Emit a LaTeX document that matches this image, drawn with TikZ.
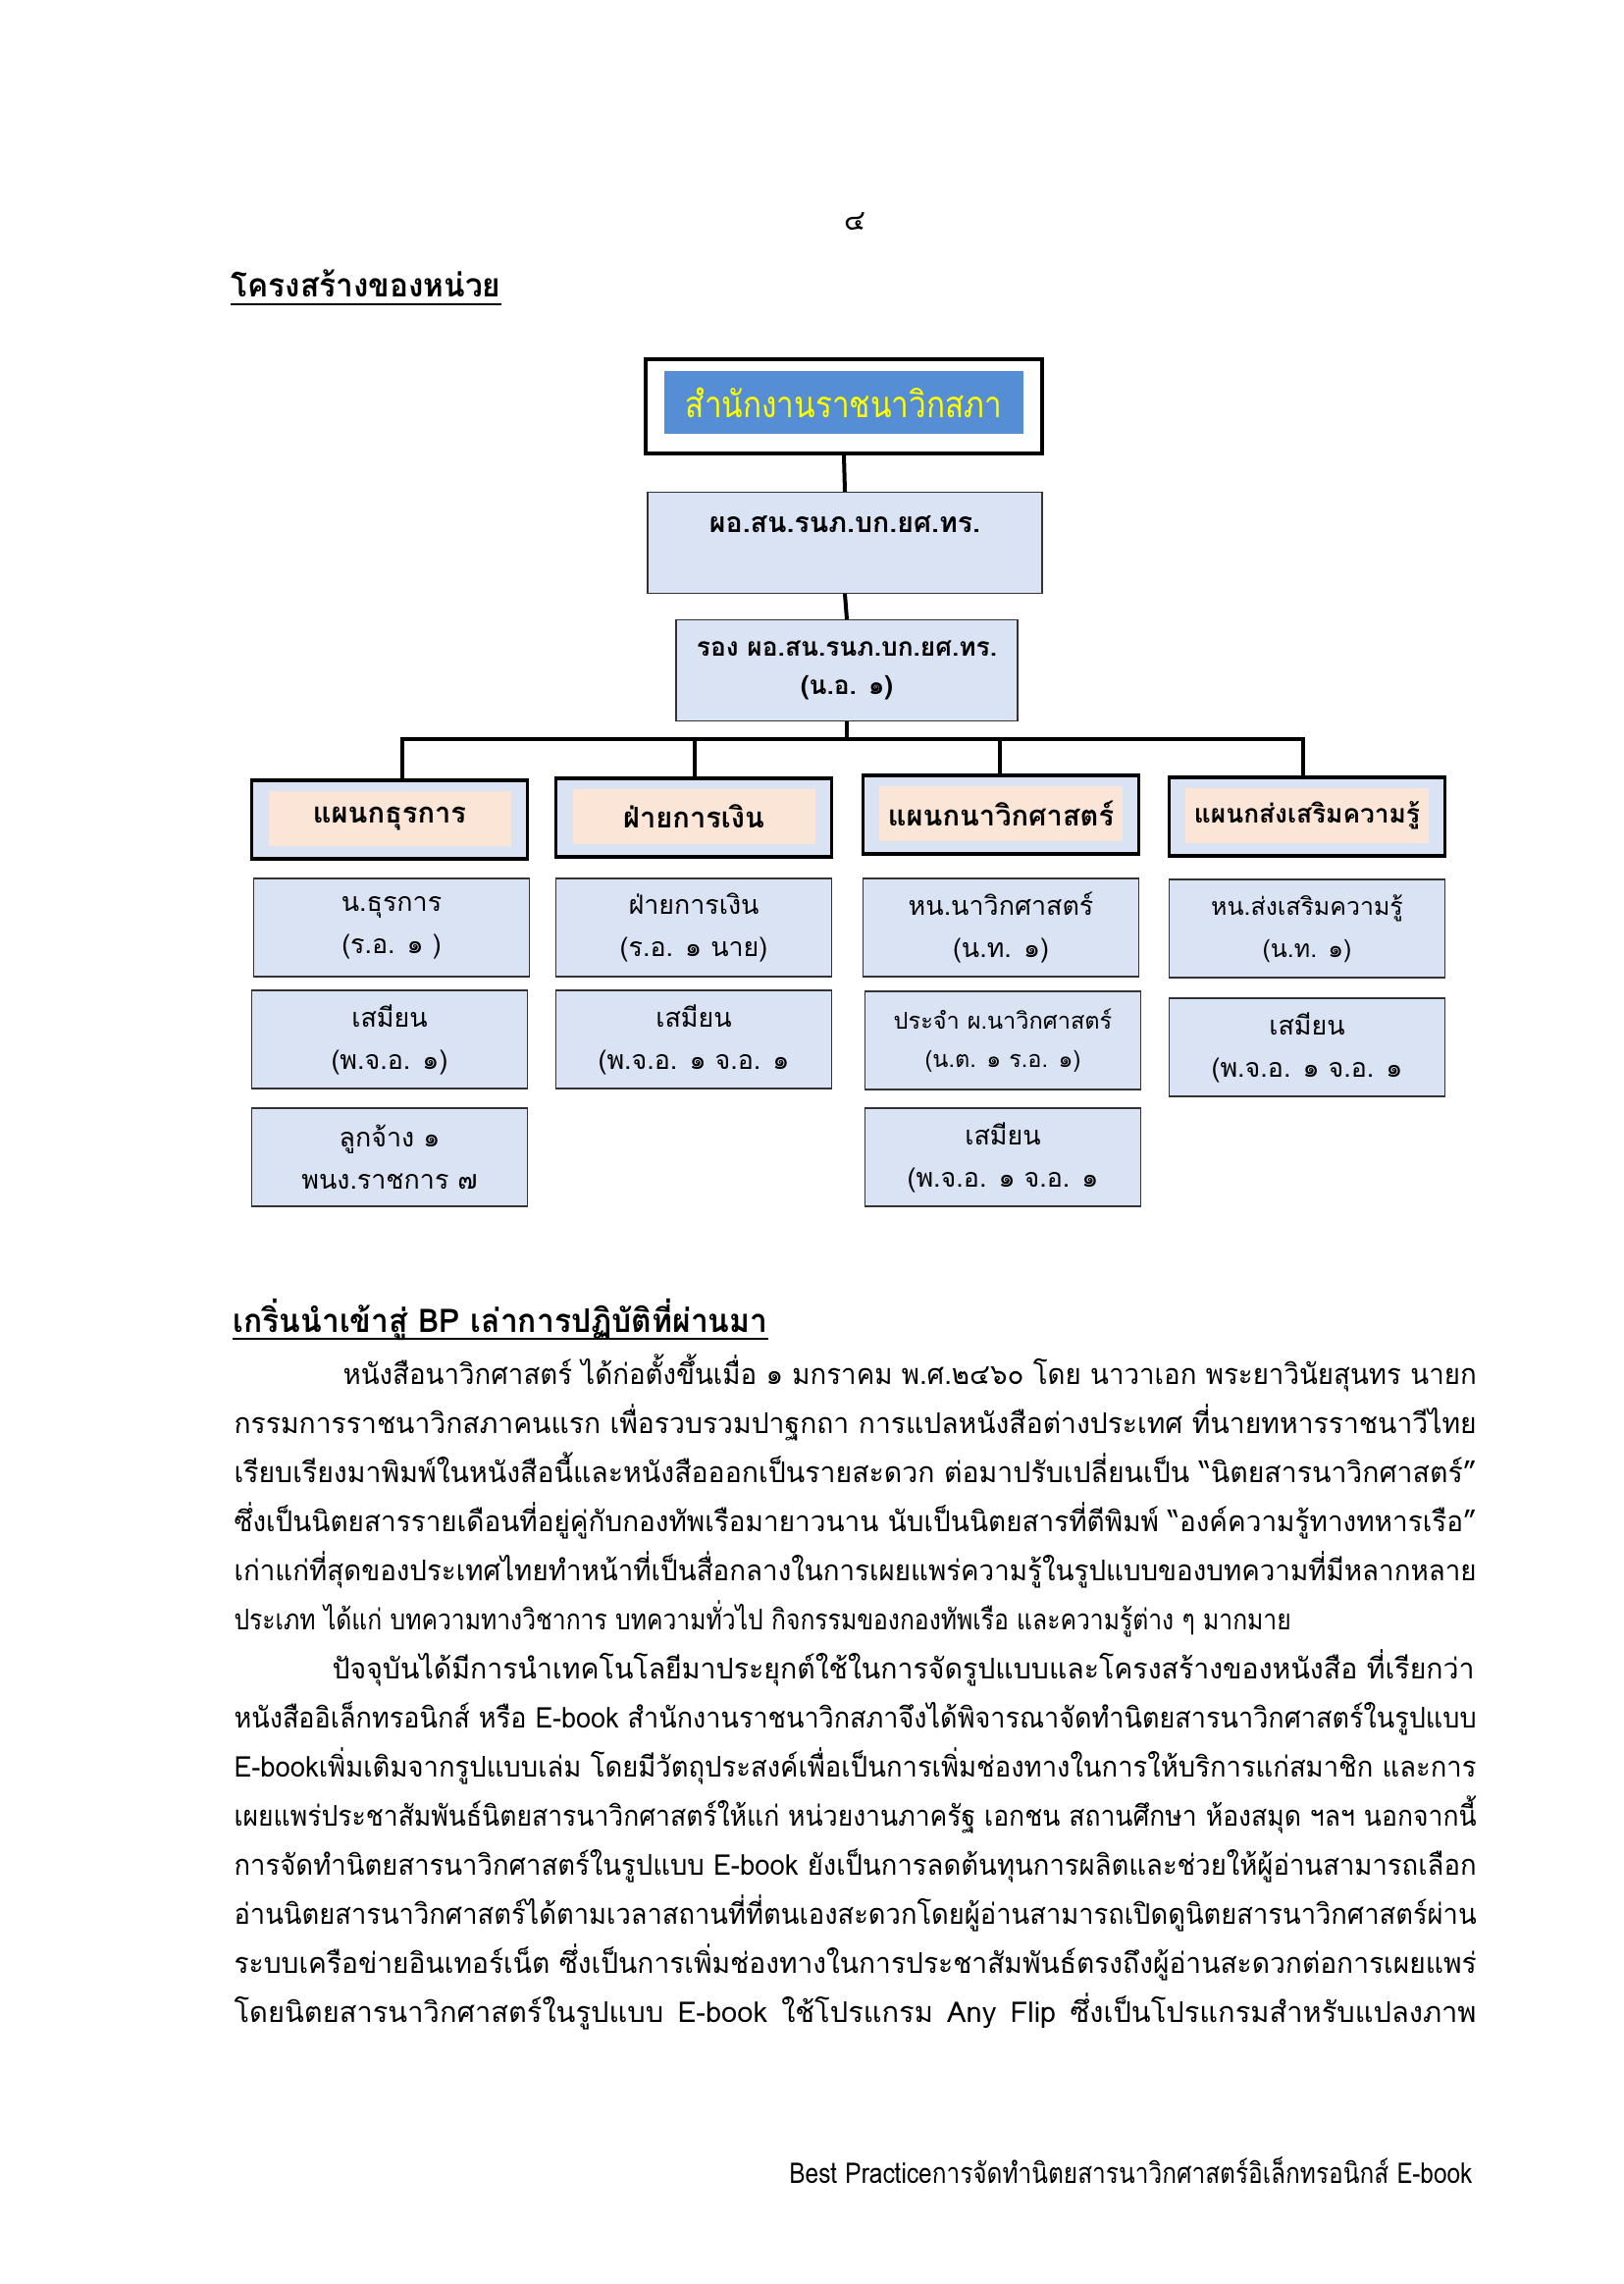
\documentclass[tikz,border=0pt]{standalone}
\usepackage{fontspec}
\usepackage{graphicx}
\setmainfont[Script=Thai]{Loma}
\definecolor{navblue}{RGB}{85,142,213}
\definecolor{paleblue}{RGB}{218,227,243}
\definecolor{peach}{RGB}{251,229,214}
\definecolor{signyellow}{RGB}{255,255,0}
\def\pu{0.127mm}
\newcommand\bodysize{\fontsize{10.5}{13}\selectfont}
\newcommand\postsize{\fontsize{9.7}{15.5}\selectfont}
\newlength\jw
\newcommand\jline[2]{\settowidth\jw{#2}\ifdim\jw>#1\relax\resizebox{#1}{\height}{#2}\else\makebox[#1][s]{#2}\fi}
\tikzset{
  link/.style={line width=1.45pt},
  topframe/.style={draw, line width=1.1pt, fill=white, minimum width=404*\pu, minimum height=96*\pu},
  topfill/.style={fill=navblue, text=signyellow, minimum width=366*\pu, minimum height=64*\pu, font=\fontsize{13.5}{15}\selectfont},
  chiefbox/.style={draw=black!80, line width=0.4pt, fill=paleblue, minimum width=402*\pu, minimum height=103*\pu, align=center, font=\bfseries\fontsize{10.3}{14}\selectfont},
  deptframe/.style={draw, line width=1.1pt, fill=paleblue, minimum width=281*\pu, minimum height=80*\pu},
  deptfill/.style={fill=peach, minimum width=247*\pu, minimum height=56*\pu, font=\bfseries\fontsize{10.5}{13}\selectfont},
  post/.style={draw=black!80, line width=0.4pt, fill=paleblue, minimum width=281*\pu, minimum height=100*\pu, align=center, font=\postsize},
  bodyline/.style={anchor=base west, inner sep=0pt, font=\bodysize},
  headline/.style={anchor=base west, inner sep=0pt, font=\bfseries\fontsize{12}{14}\selectfont},
  underrule/.style={line width=0.7pt}
}
\begin{document}
\begin{tikzpicture}[x=0.127mm, y=-0.127mm]
		%%%%% START %%%%%
		\path[use as bounding box] (0,0) rectangle (1654,2327);
		
		\node[inner sep=0pt, font=\bodysize] (pageno) at (871,226) {๔};
		\node[headline] (h1) at (235,303) {\resizebox{34.9mm}{\height}{โครงสร้างของหน่วย}};
		\draw[underrule] ([yshift=-0.85mm]h1.base west) -- ([yshift=-0.85mm]h1.base east);
		
		% top of the chart
		\node[topframe] (top) at (860,414) {};
		\node[topfill] (topname) at (860,410) {\resizebox{40.9mm}{\height}{สำนักงานราชนาวิกสภา}};
		\node[chiefbox] (chief) at (861,553) {ผอ.สน.รนภ.บก.ยศ.ทร.\\ ~};
		\node[chiefbox, minimum width=348*\pu, font=\bfseries\fontsize{9.5}{14}\selectfont] (deputy) at (863,683) {รอง ผอ.สน.รนภ.บก.ยศ.ทร.\\(น.อ. ๑)};
		
		\draw[link] (top.south) -- (chief.north);
		\draw[link] (chief.south) -- (deputy.north);
		
		% departments
		\node[deptframe] (d1) at (397,835) {};
		\node[deptfill] (d1name) at (397,834) {แผนกธุรการ};
		\node[deptframe] (d2) at (707,833) {};
		\node[deptfill] (d2name) at (707,832) {ฝ่ายการเงิน};
		\node[deptframe] (d3) at (1020,830) {};
		\node[deptfill] (d3name) at (1020,829) {แผนกนาวิกศาสตร์};
		\node[deptframe] (d4) at (1332,832) {};
		\node[deptfill, font=\bfseries\fontsize{9.5}{12}\selectfont] (d4name) at (1332,831) {แผนกส่งเสริมความรู้};
		
		\coordinate (b1) at (410,753);
		\coordinate (b2) at (708,753);
		\coordinate (b3) at (1019,753);
		\coordinate (b4) at (1328,753);
		\draw[link] (deputy.south) -- (deputy.south |- b1);
		\draw[link] (b1 |- d1.north) -- (b1) -- (b4) -- (b4 |- d4.north);
		\draw[link] (b2) -- (b2 |- d2.north);
		\draw[link] (b3) -- (b3 |- d3.north);
		
		% posts
		\node[post] (p11) at (399,945) {น.ธุรการ\\(ร.อ. ๑ )};
		\node[post] (p12) at (397,1059) {เสมียน\\(พ.จ.อ. ๑)};
		\node[post] (p13) at (397,1179) {ลูกจ้าง ๑\\พนง.ราชการ ๗};
		\node[post] (p21) at (707,945) {ฝ่ายการเงิน\\(ร.อ. ๑ นาย)};
		\node[post] (p22) at (707,1059) {เสมียน\\(พ.จ.อ. ๑ จ.อ. ๑};
		\node[post] (p31) at (1020,945) {หน.นาวิกศาสตร์\\(น.ท. ๑)};
		\node[post, font=\fontsize{8.5}{14}\selectfont] (p32) at (1022,1060) {ประจำ ผ.นาวิกศาสตร์\\(น.ต. ๑ ร.อ. ๑)};
		\node[post] (p33) at (1022,1179) {เสมียน\\(พ.จ.อ. ๑ จ.อ. ๑};
		\node[post, font=\fontsize{9}{15.5}\selectfont] (p41) at (1332,946) {หน.ส่งเสริมความรู้\\(น.ท. ๑)};
		\node[post] (p42) at (1332,1067) {เสมียน\\(พ.จ.อ. ๑ จ.อ. ๑};
		
		% text
		\node[headline] (h2) at (237,1357) {\resizebox{69.2mm}{\height}{เกริ่นนำเข้าสู่ BP เล่าการปฏิบัติที่ผ่านมา}};
		\draw[underrule] ([yshift=-0.85mm]h2.base west) -- ([yshift=-0.85mm]h2.base east);
		
		\node[bodyline] (l1) at (349,1410) {\jline{146.69mm}{หนังสือนาวิกศาสตร์ ได้ก่อตั้งขึ้นเมื่อ ๑ มกราคม พ.ศ.๒๔๖๐ โดย นาวาเอก พระยาวินัยสุนทร นายก}};
		\node[bodyline] (l2) at (238,1460) {\jline{160.78mm}{กรรมการราชนาวิกสภาคนแรก เพื่อรวบรวมปาฐกถา การแปลหนังสือต่างประเทศ ที่นายทหารราชนาวีไทย}};
		\node[bodyline] (l3) at (238,1510) {\jline{160.78mm}{เรียบเรียงมาพิมพ์ในหนังสือนี้และหนังสือออกเป็นรายสะดวก ต่อมาปรับเปลี่ยนเป็น “นิตยสารนาวิกศาสตร์”}};
		\node[bodyline] (l4) at (238,1560) {\jline{160.78mm}{ซึ่งเป็นนิตยสารรายเดือนที่อยู่คู่กับกองทัพเรือมายาวนาน นับเป็นนิตยสารที่ตีพิมพ์ “องค์ความรู้ทางทหารเรือ”}};
		\node[bodyline] (l5) at (238,1610) {\jline{160.78mm}{เก่าแก่ที่สุดของประเทศไทยทำหน้าที่เป็นสื่อกลางในการเผยแพร่ความรู้ในรูปแบบของบทความที่มีหลากหลาย}};
		\node[bodyline] (l6) at (238,1660) {\jline{136.8mm}{ประเภท ได้แก่ บทความทางวิชาการ บทความทั่วไป กิจกรรมของกองทัพเรือ และความรู้ต่าง ๆ มากมาย}};
		\node[bodyline] (l7) at (338,1710) {\jline{147.83mm}{ปัจจุบันได้มีการนำเทคโนโลยีมาประยุกต์ใช้ในการจัดรูปแบบและโครงสร้างของหนังสือ ที่เรียกว่า}};
		\node[bodyline] (l8) at (238,1760) {\jline{160.78mm}{หนังสืออิเล็กทรอนิกส์ หรือ E-book สำนักงานราชนาวิกสภาจึงได้พิจารณาจัดทำนิตยสารนาวิกศาสตร์ในรูปแบบ}};
		\node[bodyline] (l9) at (238,1810) {\jline{160.78mm}{E-bookเพิ่มเติมจากรูปแบบเล่ม โดยมีวัตถุประสงค์เพื่อเป็นการเพิ่มช่องทางในการให้บริการแก่สมาชิก และการ}};
		\node[bodyline] (l10) at (238,1860) {\jline{160.78mm}{เผยแพร่ประชาสัมพันธ์นิตยสารนาวิกศาสตร์ให้แก่ หน่วยงานภาครัฐ เอกชน สถานศึกษา ห้องสมุด ฯลฯ นอกจากนี้}};
		\node[bodyline] (l11) at (238,1910) {\jline{160.78mm}{การจัดทำนิตยสารนาวิกศาสตร์ในรูปแบบ E-book ยังเป็นการลดต้นทุนการผลิตและช่วยให้ผู้อ่านสามารถเลือก}};
		\node[bodyline] (l12) at (238,1960) {\jline{160.78mm}{อ่านนิตยสารนาวิกศาสตร์ได้ตามเวลาสถานที่ที่ตนเองสะดวกโดยผู้อ่านสามารถเปิดดูนิตยสารนาวิกศาสตร์ผ่าน}};
		\node[bodyline] (l13) at (238,2010) {\jline{160.78mm}{ระบบเครือข่ายอินเทอร์เน็ต ซึ่งเป็นการเพิ่มช่องทางในการประชาสัมพันธ์ตรงถึงผู้อ่านสะดวกต่อการเผยแพร่}};
		\node[bodyline] (l14) at (238,2060) {\jline{160.78mm}{โดยนิตยสารนาวิกศาสตร์ในรูปแบบ E-book ใช้โปรแกรม Any Flip ซึ่งเป็นโปรแกรมสำหรับแปลงภาพ}};
		
		\node[bodyline, anchor=base east] (foot) at (1501,2224) {\resizebox{88.4mm}{\height}{Best Practiceการจัดทำนิตยสารนาวิกศาสตร์อิเล็กทรอนิกส์ E-book}};
		%%%%% END %%%%%
\end{tikzpicture}
\end{document}
